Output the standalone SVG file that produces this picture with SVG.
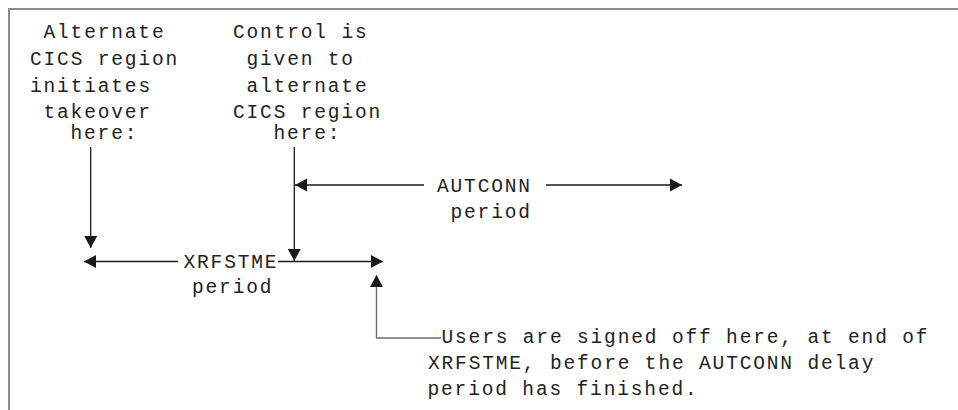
<svg xmlns="http://www.w3.org/2000/svg" width="958" height="410" viewBox="0 0 958 410">
<defs>
<marker id="ah" markerUnits="userSpaceOnUse" markerWidth="12" markerHeight="13" refX="12" refY="6.5" orient="auto" overflow="visible"><path d="M0,0 L12,6.5 L0,13 z" fill="#1a1a1a"/></marker>
</defs>
<style>
text{font-family:"Liberation Mono","DejaVu Sans Mono",monospace;font-size:19.5px;letter-spacing:1.85px;fill:#222222}
.ln{stroke:#1a1a1a;stroke-width:1.3;fill:none}
.gl{stroke:#6e6e6e;stroke-width:1.4;fill:none}
.frame{stroke:#8c8c8c;stroke-width:2;fill:none}
</style>
<rect width="958" height="410" fill="#ffffff"/>
<path class="frame" d="M9,410 V9 H958"/>
<g id="takeover-label">
<text x="43.5" y="38">Alternate</text>
<text x="30" y="65">CICS region</text>
<text x="30" y="92">initiates</text>
<text x="43.5" y="118">takeover</text>
<text x="70.5" y="139">here:</text>
</g>
<g id="control-label">
<text x="233" y="38">Control is</text>
<text x="246.5" y="65">given to</text>
<text x="246.5" y="92">alternate</text>
<text x="233" y="118">CICS region</text>
<text x="273.5" y="139">here:</text>
</g>
<g id="autconn-label">
<text x="437" y="192">AUTCONN</text>
<text x="450.5" y="218">period</text>
</g>
<g id="xrfstme-label">
<text x="183.5" y="268">XRFSTME</text>
<text x="192" y="293">period</text>
</g>
<g id="signoff-label">
<text x="441.5" y="343">Users are signed off here, at end of</text>
<text x="428" y="369">XRFSTME, before the AUTCONN delay</text>
<text x="427.5" y="395">period has finished.</text>
</g>
<g id="connectors">
<path class="ln" d="M90.7,147 V248" marker-end="url(#ah)"/>
<path class="ln" d="M294.3,147 V261" marker-end="url(#ah)"/>
<path class="ln" d="M424,185 H295" marker-end="url(#ah)"/>
<path class="ln" d="M546,185 H682" marker-end="url(#ah)"/>
<path class="ln" d="M178,261.5 H84" marker-end="url(#ah)"/>
<path class="ln" d="M278,261.5 H383" marker-end="url(#ah)"/>
<path class="gl" d="M441,338 H376.5 V275" marker-end="url(#ah)"/>
</g>
</svg>
